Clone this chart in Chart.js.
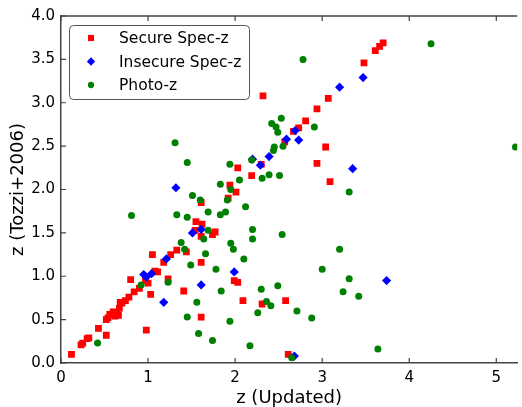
<!DOCTYPE html>
<html>
<head>
<meta charset="utf-8">
<script src="https://cdn.jsdelivr.net/npm/chart.js@4.4.3/dist/chart.umd.min.js"></script>
<style>
  html, body { margin: 0; padding: 0; background: #fff; }
</style>
</head>
<body>
<canvas id="myChart" width="522" height="407"></canvas>
<script>
// redshift pairs: updated value (x) vs Tozzi+2006 value (y)
const secureX = [0.12, 0.23, 0.25, 0.30, 0.32, 0.43, 0.52, 0.52, 0.54, 0.56, 0.60, 0.62, 0.64, 0.66, 0.67, 0.68, 0.70, 0.74,
  0.78, 0.80, 0.84, 0.90, 0.98, 1.00, 0.97, 1.03, 1.05, 1.08, 1.11, 1.18, 1.23, 1.26, 1.33, 1.44, 1.41, 1.61, 1.61, 1.61,
  1.55, 1.62, 1.61, 1.54, 1.74, 1.77, 2.03, 1.94, 2.01, 1.92, 2.19, 3.04, 2.94, 3.09, 2.57, 2.30, 2.32, 3.07, 2.94, 2.81,
  2.73, 2.67, 3.70, 3.66, 3.61, 3.48, 1.99, 2.03, 2.09, 2.31, 2.58, 2.61]
const secureY = [0.10, 0.21, 0.23, 0.28, 0.29, 0.40, 0.32, 0.50, 0.52, 0.56, 0.59, 0.54, 0.58, 0.55, 0.63, 0.70, 0.69, 0.72,
  0.76, 0.96, 0.82, 0.86, 0.38, 0.92, 0.95, 0.79, 1.25, 1.06, 1.05, 1.16, 0.97, 1.25, 1.30, 1.28, 0.83, 1.16, 0.53, 1.85,
  1.63, 1.60, 1.46, 1.53, 1.48, 1.51, 2.25, 2.05, 1.97, 1.90, 2.16, 2.49, 2.30, 2.09, 2.55, 2.29, 3.08, 3.05, 2.93, 2.79,
  2.71, 2.67, 3.69, 3.65, 3.60, 3.46, 0.95, 0.93, 0.72, 0.68, 0.72, 0.10]

const insecureX = [0.95, 0.98, 1.04, 1.18, 1.21, 1.61, 1.32, 1.51, 1.61, 2.20, 2.29, 2.39, 2.59, 2.73, 2.69, 3.35, 3.20,
  3.47, 1.99, 2.68, 3.74]
const insecureY = [1.02, 0.99, 1.03, 0.70, 1.20, 0.90, 2.02, 1.50, 1.54, 2.35, 2.28, 2.38, 2.58, 2.57, 2.68, 2.24, 3.18,
  3.29, 1.05, 0.08, 0.95]

const photoX = [2.78, 2.53, 2.42, 2.47, 2.49, 2.91, 4.25, 1.31, 1.45, 1.51, 1.60, 1.69, 0.81, 1.33, 1.45, 1.69, 1.38, 1.64,
  1.42, 2.45, 2.44, 2.55, 1.94, 2.19, 2.05, 2.31, 2.39, 2.51, 1.83, 1.95, 1.91, 2.12, 1.83, 1.89, 2.20, 2.20, 2.54, 1.95,
  1.98, 3.20, 3.31, 5.22, 0.42, 0.92, 1.23, 1.49, 1.66, 1.56, 1.45, 1.58, 1.74, 2.10, 1.78, 3.00, 3.31, 3.24, 3.42, 1.84,
  2.30, 2.49, 2.36, 2.41, 2.26, 2.71, 2.88, 1.94, 2.17, 2.65, 3.64]
const photoY = [3.50, 2.82, 2.76, 2.72, 2.66, 2.72, 3.68, 2.54, 2.31, 1.93, 1.88, 1.74, 1.70, 1.71, 1.68, 1.53, 1.39, 1.43,
  1.31, 2.49, 2.45, 2.50, 2.29, 2.34, 2.11, 2.13, 2.17, 2.16, 2.06, 2.00, 1.88, 1.80, 1.71, 1.74, 1.54, 1.43, 1.48, 1.38,
  1.31, 1.31, 1.97, 2.49, 0.23, 0.90, 0.93, 1.13, 1.26, 0.70, 0.53, 0.34, 0.26, 1.20, 1.08, 1.08, 0.97, 0.82, 0.77, 0.83,
  0.85, 0.89, 0.71, 0.66, 0.58, 0.60, 0.52, 0.48, 0.20, 0.06, 0.16]

const xTicks = [0, 1, 2, 3, 4, 5]
const yTicks = [0, 0.5, 1, 1.5, 2, 2.5, 3, 3.5, 4]

const seriesNames = ['Secure Spec-z', 'Insecure Spec-z', 'Photo-z']

const axisColor = '#444'
const font = 'DejaVu Sans'

function toPoints(xs, ys) {
  return xs.map((x, i) => ({x: x, y: ys[i]}))
}

// inward ticks on bottom/top/left plus the top spine
const innerTicks = {
  id: 'innerTicks',
  afterDatasetsDraw(chart) {
    const {ctx, chartArea: a, scales: {x, y}} = chart
    ctx.save()
    ctx.strokeStyle = axisColor
    ctx.lineWidth = 1.2
    ctx.beginPath()
    for (const v of xTicks) {
      const px = x.getPixelForValue(v)
      ctx.moveTo(px, a.bottom); ctx.lineTo(px, a.bottom - 5)
      ctx.moveTo(px, a.top); ctx.lineTo(px, a.top + 5)
    }
    for (const v of yTicks) {
      const py = y.getPixelForValue(v)
      ctx.moveTo(a.left, py); ctx.lineTo(a.left + 5, py)
    }
    ctx.stroke()
    ctx.lineWidth = 1.5
    ctx.beginPath()
    ctx.moveTo(a.left, a.top); ctx.lineTo(a.right, a.top)
    ctx.stroke()
    ctx.restore()
  }
}

// legend box in the upper left corner
const boxLegend = {
  id: 'boxLegend',
  afterDraw(chart) {
    const ctx = chart.ctx
    const left = 69, top = 25, w = 180, h = 74
    ctx.save()
    ctx.beginPath()
    ctx.roundRect(left + 0.5, top + 0.5, w, h, 4)
    ctx.fillStyle = '#fff'
    ctx.fill()
    ctx.strokeStyle = '#555'
    ctx.lineWidth = 1
    ctx.stroke()
    chart.data.datasets.forEach((ds, i) => {
      const cy = top + 13 + i * 23.5
      ctx.fillStyle = ds.backgroundColor
      ctx.strokeStyle = ds.borderColor
      ctx.lineWidth = 0
      Chart.helpers.drawPoint(ctx, {pointStyle: ds.pointStyle, radius: ds.pointRadius * 0.9, rotation: 0, borderWidth: 0}, left + 22, cy)
      ctx.fillStyle = '#000'
      ctx.font = '15.5px "' + font + '"'
      ctx.textBaseline = 'middle'
      ctx.fillText(ds.label, left + 50, cy + 1)
    })
    ctx.restore()
  }
}

const data = {
  datasets: [{
    label: seriesNames[0],
    data: toPoints(secureX, secureY),
    pointStyle: 'rect',
    pointRadius: 4.8,
    backgroundColor: '#ff0000',
    borderColor: '#ff0000',
    borderWidth: 0,
    order: 3
  }, {
    label: seriesNames[1],
    data: toPoints(insecureX, insecureY),
    pointStyle: 'rectRot',
    pointRadius: 4.6,
    backgroundColor: '#0000ff',
    borderColor: '#0000ff',
    borderWidth: 0,
    order: 2
  }, {
    label: seriesNames[2],
    data: toPoints(photoX, photoY),
    pointStyle: 'circle',
    pointRadius: 3.5,
    backgroundColor: '#008000',
    borderColor: '#008000',
    borderWidth: 0,
    order: 1
  }]
}

const config = {
  type: 'scatter',
  data: data,
  options: {
    responsive: false,
    animation: false,
    layout: {padding: {top: 16, right: 0, bottom: 0, left: 0}},
    plugins: {
      legend: {display: false},
      tooltip: {enabled: false}
    },
    scales: {
      x: {
        type: 'linear',
        min: 0,
        max: 5.24,
        afterBuildTicks: (s) => { s.ticks = xTicks.map(v => ({value: v})) },
        afterFit: (s) => { s.height = 44 },
        grid: {drawOnChartArea: false, drawTicks: false},
        border: {color: axisColor, width: 1.5},
        ticks: {padding: 6, color: '#000', font: {family: font, size: 15}, maxRotation: 0, callback: v => String(v)},
        title: {display: true, text: 'z (Updated)', color: '#000', font: {family: font, size: 18}, padding: {top: 0, bottom: -2}}
      },
      y: {
        type: 'linear',
        min: 0,
        max: 4,
        afterBuildTicks: (s) => { s.ticks = yTicks.map(v => ({value: v})) },
        afterFit: (s) => { s.width = 61 },
        grid: {drawOnChartArea: false, drawTicks: false},
        border: {color: axisColor, width: 1.5},
        ticks: {padding: 6, color: '#000', font: {family: font, size: 15}, callback: v => v.toFixed(1)},
        title: {display: true, text: 'z (Tozzi+2006)', color: '#000', font: {family: font, size: 18}, padding: {top: 8, bottom: 0}}
      }
    }
  },
  plugins: [innerTicks, boxLegend]
}

new Chart(document.getElementById('myChart'), config)
</script>
</body>
</html>
